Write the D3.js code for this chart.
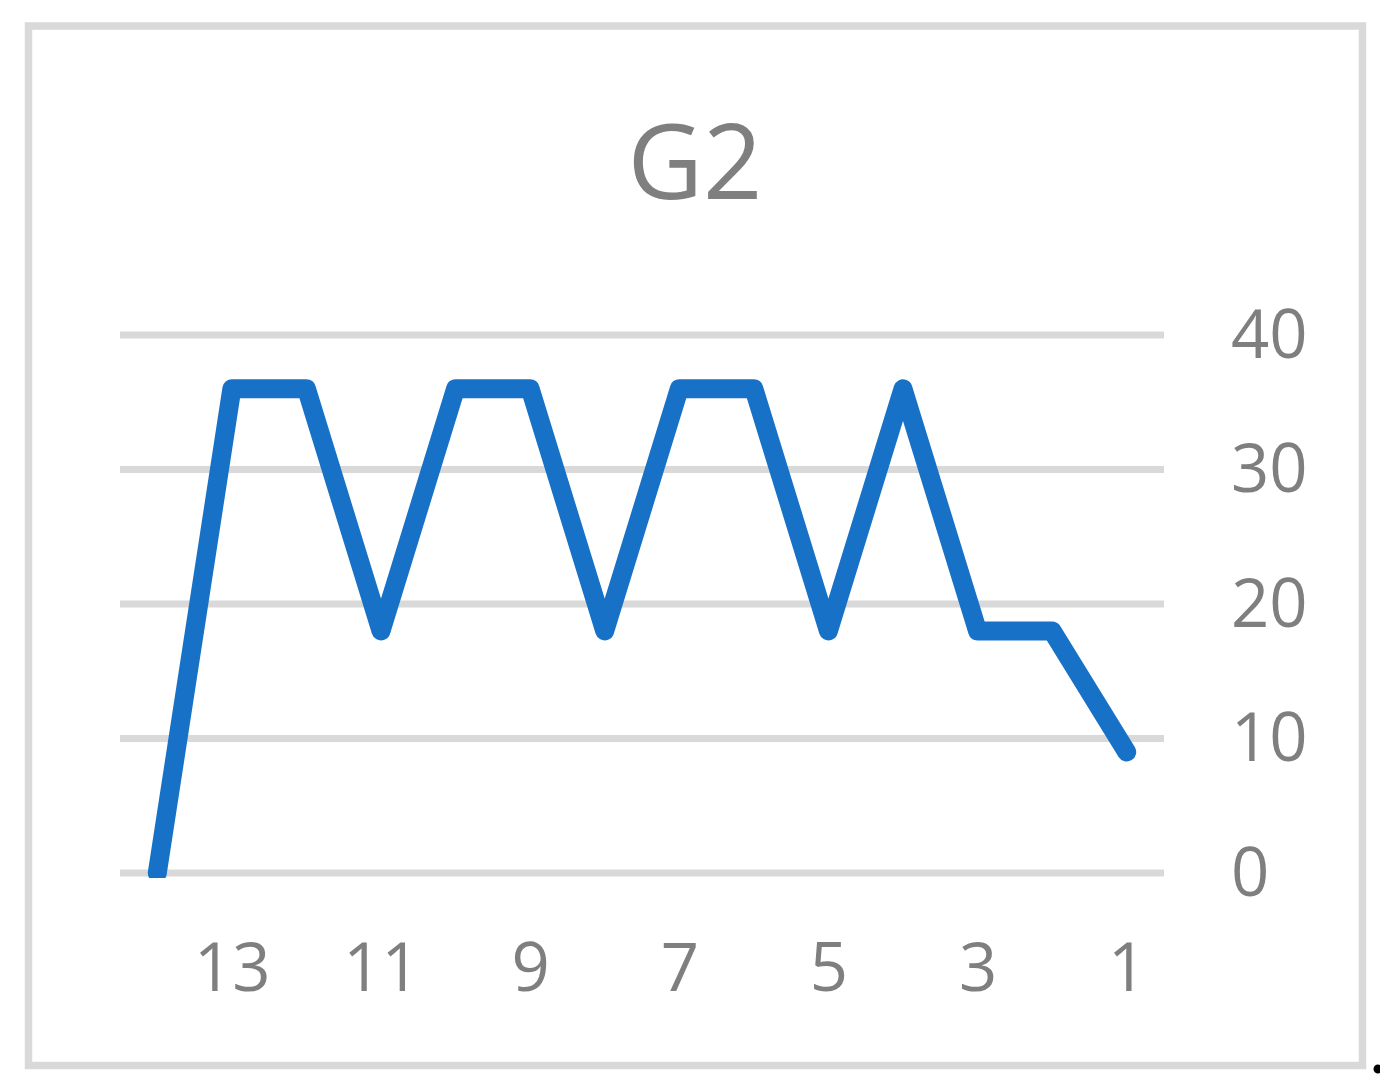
<!DOCTYPE html>
<html>
<head>
<meta charset="utf-8">
<script src="https://cdn.jsdelivr.net/npm/d3@7"></script>
<style>
  html, body { margin: 0; padding: 0; background: #fff; }
  svg { display: block; }
</style>
</head>
<body>
<svg id="viz" width="1380" height="1089"></svg>
<script>
const svg = d3.select("#viz");
const width = +svg.attr("width");
const height = +svg.attr("height");

// categories run right-to-left, like the reversed axis in the original
const categories = [14, 13, 12, 11, 10, 9, 8, 7, 6, 5, 4, 3, 2, 1];
const values = [0, 36, 36, 18, 36, 36, 18, 36, 36, 18, 36, 18, 18, 9];
const xTickLabels = [13, 11, 9, 7, 5, 3, 1];
const yTicks = [0, 10, 20, 30, 40];
const title = "G2";

const plot = { left: 120, right: 1164, top: 335, bottom: 873 };
const font = "'Open Sans', 'Noto Sans', sans-serif";
const grey = "#7f7f7f";

// chart frame
svg.append("rect")
  .attr("x", 28.5).attr("y", 26)
  .attr("width", 1334).attr("height", 1039.5)
  .attr("fill", "#fff")
  .attr("stroke", "#d9d9d9")
  .attr("stroke-width", 7.5);

const x = d3.scaleBand()
  .domain(categories)
  .range([plot.left, plot.right]);

const y = d3.scaleLinear()
  .domain([0, 40])
  .range([plot.bottom, plot.top]);

const cx = d => x(d) + x.bandwidth() / 2;

// gridlines
svg.append("g")
  .selectAll("line")
  .data(yTicks)
  .join("line")
  .attr("x1", plot.left)
  .attr("x2", plot.right)
  .attr("y1", d => y(d))
  .attr("y2", d => y(d))
  .attr("stroke", "#d9d9d9")
  .attr("stroke-width", 7);

// y axis on the right
const yAxis = svg.append("g")
  .attr("transform", `translate(1231,0)`)
  .call(d3.axisRight(y).tickValues(yTicks).tickSize(0).tickPadding(0));
yAxis.select(".domain").remove();
yAxis.selectAll("text")
  .attr("dy", 22)
  .attr("text-anchor", "start")
  .attr("font-family", font)
  .attr("font-size", 67)
  .attr("fill", grey);

// x axis labels (odd categories only)
const xAxis = svg.append("g")
  .attr("transform", `translate(0,${plot.bottom})`)
  .call(d3.axisBottom(d3.scalePoint().domain(categories).range([cx(14), cx(1)]))
    .tickValues(xTickLabels).tickSize(0).tickPadding(0));
xAxis.select(".domain").remove();
xAxis.selectAll("text")
  .attr("dy", 118)
  .attr("font-family", font)
  .attr("font-size", 67)
  .attr("fill", grey);

// data line, clipped just below the plot floor
svg.append("clipPath").attr("id", "plotClip")
  .append("rect")
  .attr("x", 0).attr("y", 0)
  .attr("width", width).attr("height", plot.bottom + 5);

const series = categories.map((c, i) => ({ c, v: values[i] }));
const line = d3.line().x(d => cx(d.c)).y(d => y(d.v));

svg.append("path")
  .datum(series)
  .attr("clip-path", "url(#plotClip)")
  .attr("fill", "none")
  .attr("stroke", "#1772c7")
  .attr("stroke-width", 19)
  .attr("stroke-linejoin", "round")
  .attr("stroke-linecap", "round")
  .attr("d", line);

// title
svg.append("text")
  .attr("x", 695)
  .attr("y", 199)
  .attr("text-anchor", "middle")
  .attr("font-family", font)
  .attr("font-size", 104)
  .attr("fill", grey)
  .text(title);

// small stray dot at the bottom-right corner
svg.append("circle")
  .attr("cx", 1378).attr("cy", 1069).attr("r", 4.5)
  .attr("fill", "#000");
</script>
</body>
</html>
